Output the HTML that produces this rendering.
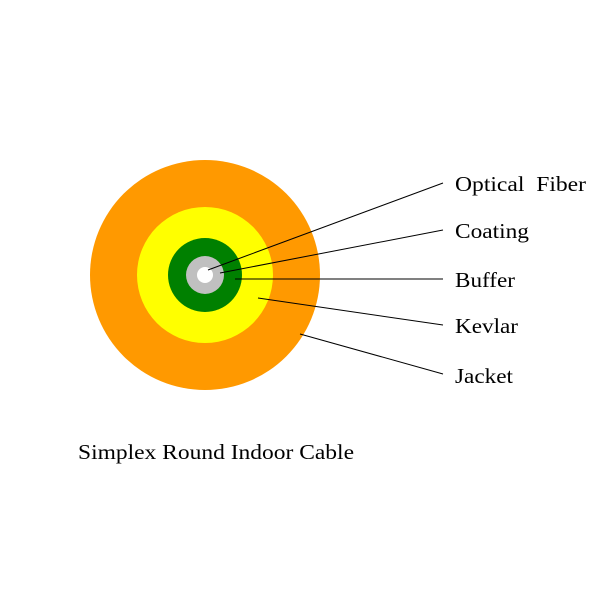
<!DOCTYPE html>
<html><head><style>body{margin:0;background:#fff}</style></head><body>
<svg width="600" height="600" xmlns="http://www.w3.org/2000/svg" style="display:block">
<rect width="600" height="600" fill="#fff"/>
<circle cx="205" cy="275" r="115" fill="#ff9900"/>
<circle cx="205" cy="275" r="68" fill="#ffff00"/>
<circle cx="205" cy="275" r="37" fill="#008000"/>
<circle cx="205" cy="275" r="19" fill="#c0c0c0"/>
<circle cx="205" cy="275" r="8" fill="#fff"/>
<g stroke="#000" stroke-width="1">
<line x1="208" y1="270" x2="443" y2="183"/>
<line x1="220" y1="273" x2="443" y2="230"/>
<line x1="235" y1="279" x2="443" y2="279"/>
<line x1="258" y1="298" x2="443" y2="325"/>
<line x1="300" y1="334" x2="443" y2="374"/>
</g>
<g font-family="Liberation Serif, serif" font-size="21" fill="#000" lengthAdjust="spacingAndGlyphs">
<text x="455" y="191" xml:space="preserve" textLength="131" lengthAdjust="spacingAndGlyphs">Optical  Fiber</text>
<text x="455" y="238" textLength="74" lengthAdjust="spacingAndGlyphs">Coating</text>
<text x="455" y="287" textLength="60" lengthAdjust="spacingAndGlyphs">Buffer</text>
<text x="455" y="333" textLength="63" lengthAdjust="spacingAndGlyphs">Kevlar</text>
<text x="455" y="383" textLength="58" lengthAdjust="spacingAndGlyphs">Jacket</text>
<text x="78" y="459" textLength="276" lengthAdjust="spacingAndGlyphs">Simplex Round Indoor Cable</text>
</g>
</svg>
</body></html>
